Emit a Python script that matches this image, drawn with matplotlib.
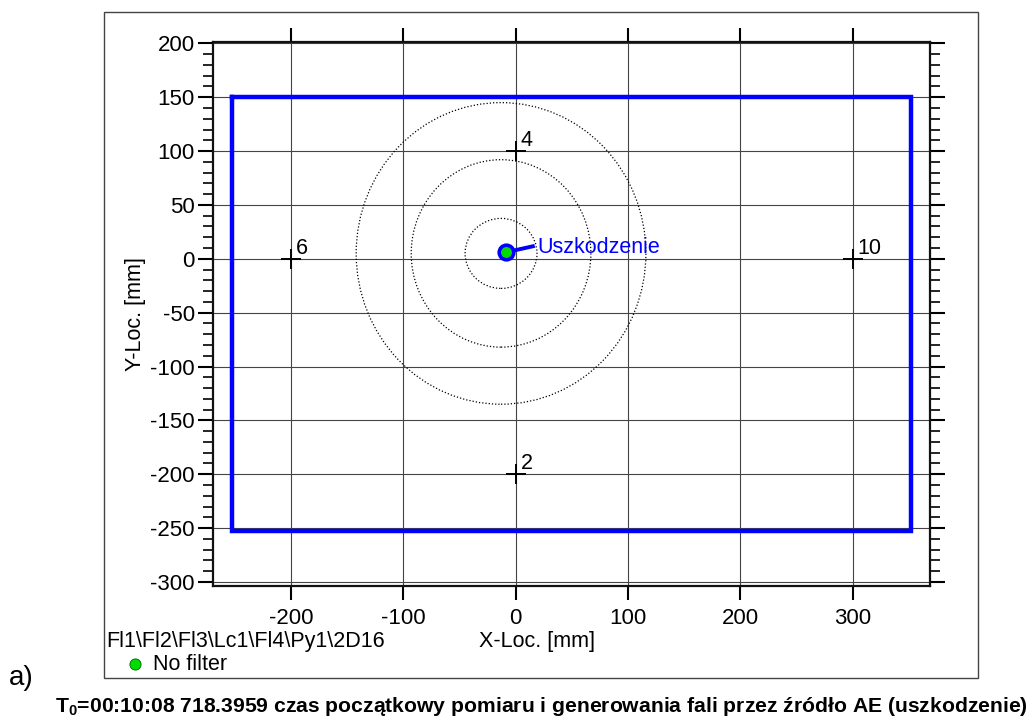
import numpy as np
import matplotlib.pyplot as plt
from matplotlib.patches import Ellipse, Rectangle
from matplotlib.ticker import MultipleLocator

plt.rcParams['font.family'] = ['Liberation Sans', 'DejaVu Sans']
plt.rcParams['axes.unicode_minus'] = False

# sensors
sensor_x = [0, 0, -200, 300]
sensor_y = [-200, 100, 0, 0]
sensor_ids = ['2', '4', '6', '10']

# plate outline
plate_x = [-253, 352, 352, -253, -253]
plate_y = [150, 150, -253, -253, 150]

# located event + distance rings
event_x = [-9]
event_y = [6]
ring_center = (-13, 5)
ring_w = [64, 160, 258]
ring_h = [65, 174, 280]
event_label = 'Uszkodzenie'
leader_end = (17, 12)
label_pos = (19, 10.5)

W, H = 1035, 720
fig = plt.figure(figsize=(W / 100, H / 100), dpi=100)

def fx(px):
    return px / W

def fy(py):
    return 1 - py / H

# outer frame
fig.patches.append(Rectangle((fx(104), fy(678)), fx(978) - fx(104), fy(12) - fy(678),
                             transform=fig.transFigure, fill=False, ec='#444444', lw=1.0))

ax = fig.add_axes([fx(213), fy(585.7), fx(930) - fx(213), fy(42.3) - fy(585.7)])
ax.set_xlim(-269.5, 369)
ax.set_ylim(-303.5, 201)

ax.xaxis.set_major_locator(MultipleLocator(100))
ax.yaxis.set_major_locator(MultipleLocator(50))
ax.yaxis.set_minor_locator(MultipleLocator(10))
ax.grid(True, which='major', color='#444444', lw=0.8)
ax.set_axisbelow(True)

for s in ax.spines.values():
    s.set_linewidth(1.6)
    s.set_color('#111111')

ax.tick_params(axis='x', which='major', direction='out', length=10, width=1.5,
               top=True, bottom=True, labelsize=16, pad=6)
ax.tick_params(axis='y', which='major', direction='out', length=11, width=1.5,
               left=True, right=True, labelsize=16, pad=2)
ax.tick_params(axis='y', which='minor', direction='out', length=7, width=1.2,
               left=True, right=True)
ax.set_ylabel('Y-Loc. [mm]', fontsize=15.5, labelpad=3)

# plate
ax.plot(plate_x, plate_y, color='#0000ff', lw=3.2, solid_joinstyle='miter', zorder=3)

# rings
for w, h in zip(ring_w, ring_h):
    ax.add_patch(Ellipse(ring_center, w, h, fill=False, ec='black', lw=0.9,
                         linestyle=(0, (1, 1.6)), zorder=3))

# sensors
ax.plot(sensor_x, sensor_y, linestyle='none', marker='+', ms=15, mew=1.4,
        color='black', zorder=4)
for x, y, t in zip(sensor_x, sensor_y, sensor_ids):
    ax.annotate(t, (x, y), xytext=(3.5, 3.5), textcoords='offset points',
                ha='left', va='baseline', fontsize=15.5)

# event
ax.plot([event_x[0], leader_end[0]], [event_y[0], leader_end[1]], color='#0000ff',
        lw=2.8, solid_capstyle='butt', zorder=5)
ax.plot(event_x, event_y, linestyle='none', marker='o', ms=10.5, mfc='#00dd00',
        mec='#0000ff', mew=2.6, zorder=6)
ax.text(label_pos[0], label_pos[1], event_label, color='#0000ff', fontsize=15.5,
        ha='left', va='center', zorder=6)

# texts below
fig.text(fx(106), fy(642), r'Fl1\Fl2\Fl3\Lc1\Fl4\Py1\2D16', fontsize=15.5, ha='left', va='center')
fig.text(fx(537), fy(642), 'X-Loc. [mm]', fontsize=15.5, ha='center', va='center')
fig.lines.append(plt.Line2D([fx(135)], [fy(664)], transform=fig.transFigure, marker='o',
                            ms=8, mfc='#00dd00', mec='#007700', mew=0.7, linestyle='none'))
fig.text(fx(153), fy(664), 'No filter', fontsize=15.5, ha='left', va='center')
fig.text(fx(9), fy(678), 'a)', fontsize=20, ha='left', va='center')
fig.text(fx(541), fy(706),
         'T$_\\mathregular{0}$=00:10:08 718.3959 czas początkowy pomiaru i generowania fali przez źródło AE (uszkodzenie)',
         fontsize=15.2, fontweight='bold', ha='center', va='center')

fig.savefig('out.png', dpi=100)
